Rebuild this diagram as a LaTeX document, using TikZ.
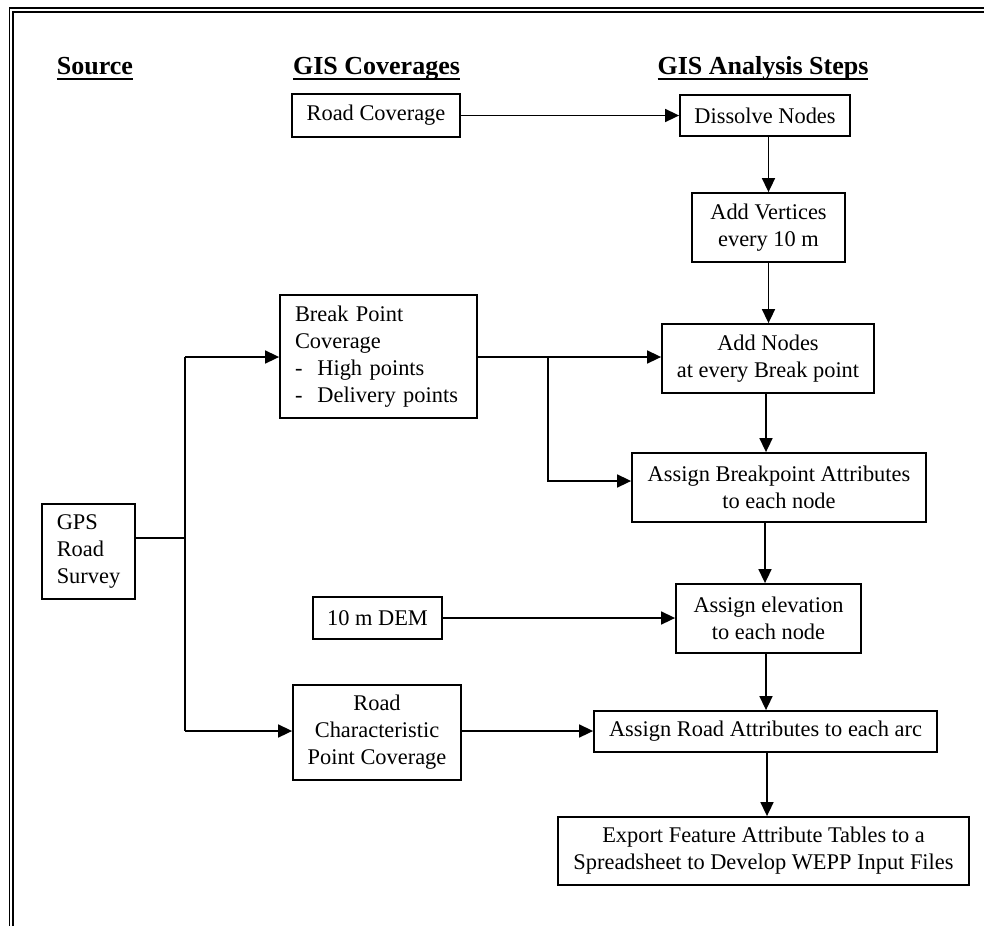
\documentclass[tikz,border=0pt]{standalone}
\usepackage{fontspec}
\setmainfont{Liberation Serif}
\usetikzlibrary{arrows.meta}
\newcommand{\headul}[1]{\setbox0\hbox{#1}\rlap{\vrule height -4pt depth 6pt width \wd0}\box0}

\begin{document}
\begin{tikzpicture}[x=1pt, y=-1pt, line width=1.6pt,
    box/.style={draw, line width=1.8pt, inner sep=0pt, align=center,
        font=\fontsize{22.4}{27}\selectfont},
    hdr/.style={anchor=base, font=\fontsize{26}{30}\selectfont\bfseries},
    arr/.style={-{Triangle[length=14pt,width=13pt]}}]
    \useasboundingbox (0,0) rectangle (984,926);
    % frame
    \draw[line width=1.3pt] (9.5,926) -- (9.5,8) -- (984,8);
    \draw[line width=2.2pt] (12.8,926) -- (12.8,11.8) -- (984,11.8);
    % headings
    \node[hdr] (hsrc) at (95,74) {\headul{Source}};
    \node[hdr] (hcov) at (376.5,74) {\headul{GIS Coverages}};
    \node[hdr] (hstp) at (763,74) {\headul{GIS Analysis Steps}};
    % source and coverages
    \node[box, minimum width=93pt, minimum height=95pt, align=left] (gps) at (88.5,551.5) {GPS\\Road\\Survey};
    \node[box, minimum width=168pt, minimum height=43pt] (rc) at (376,115.5) {Road Coverage};
    \node[box, minimum height=123pt, inner xsep=15pt, text width=167pt, align=left] (bp) at (378.5,356.5)
        {Break Point\\Coverage\\-\ \ High points\\-\ \ Delivery points};
    \node[box, minimum width=129pt, minimum height=42pt] (dem) at (377.5,618) {10 m DEM};
    \node[box, minimum width=168pt, minimum height=95pt] (rcp) at (377,732.5) {Road\\Characteristic\\Point Coverage};
    % analysis steps
    \node[box, minimum width=170pt, minimum height=41pt] (dn) at (765,115.5) {Dissolve Nodes};
    \node[box, minimum width=153pt, minimum height=69pt] (av) at (768.5,227.5) {Add Vertices\\ every 10 m};
    \node[box, minimum width=212pt, minimum height=69pt] (an) at (768,358.5) {Add Nodes\\at every Break point};
    \node[box, minimum width=294pt, minimum height=69pt] (ab) at (779,487.5) {Assign Breakpoint Attributes\\to each node};
    \node[box, minimum width=185pt, minimum height=69pt] (ae) at (768.5,618.5) {Assign elevation\\to each node};
    \node[box, minimum width=343pt, minimum height=41pt] (ar) at (765.5,731.5) {Assign Road Attributes to each arc};
    \node[box, minimum width=411pt, minimum height=68pt] (ex) at (763.5,851) {Export Feature Attribute Tables to a\\Spreadsheet to Develop WEPP Input Files};
    % junctions
    \coordinate (tt) at (185,357);
    \coordinate (tg) at (185,538);
    \coordinate (tb) at (185,731);
    \coordinate (br) at (548,357);
    \coordinate (bb) at (548,481);
    % connectors
    \draw (gps.east |- tg) -- (tg);
    \draw (tt) -- (tb);
    \draw[arr] (tt) -- (tt -| bp.west);
    \draw[arr] (tb) -- (tb -| rcp.west);
    \draw[arr] (rc.east) -- (rc.east -| dn.west);
    \draw[arr] (bp.east |- br) -- (br -| an.west);
    \draw[arr] (br) -- (bb) -- (bb -| ab.west);
    \draw[arr] (dem.east) -- (dem.east -| ae.west);
    \draw[arr] (rcp.east |- tb) -- (tb -| ar.west);
    \draw[arr] (dn.south -| av.north) -- (av.north);
    \draw[arr] (av.south) -- (av.south |- an.north);
    \draw[arr] (an.south -| 766,0) -- (ab.north -| 766,0);
    \draw[arr] (ab.south -| 765,0) -- (ae.north -| 765,0);
    \draw[arr] (ae.south -| 766,0) -- (ar.north -| 766,0);
    \draw[arr] (ar.south -| 767,0) -- (ex.north -| 767,0);
\end{tikzpicture}
\end{document}
